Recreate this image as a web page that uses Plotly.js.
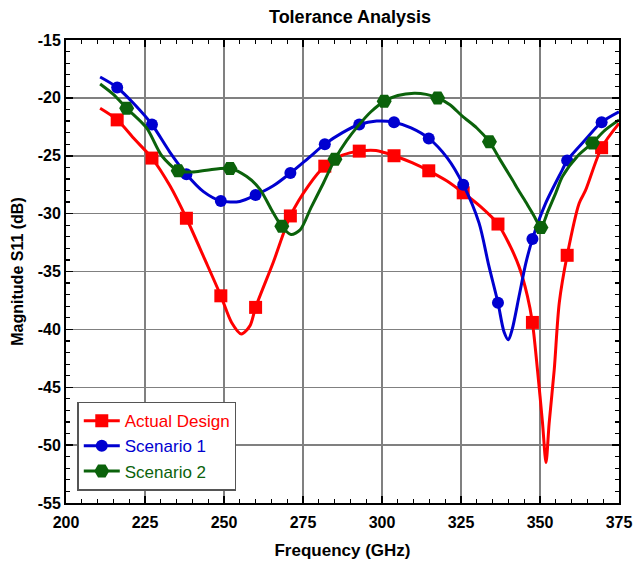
<!DOCTYPE html>
<html>
<head>
<meta charset="utf-8">
<script src="https://cdn.plot.ly/plotly-3.0.1.min.js"></script>
<style>html,body{margin:0;padding:0;background:#fff;}#chart{width:633px;height:561px;}</style>
</head>
<body>
<div id="chart"></div>
<script>
// ---- Data ----
var seriesNames = ["Actual Design", "Scenario 1", "Scenario 2"];

// Smooth curves (frequency GHz, S11 dB)
var actualCurveX = [210.8,216.2,221.8,227.2,232.9,238.1,244.0,249.0,252.4,255.5,258.2,260.0,265.6,271.0,276.7,281.9,287.5,292.8,298.1,303.8,309.5,314.8,320.7,325.7,331.2,336.7,340.2,343.4,346.0,347.6,349.2,350.8,351.9,352.9,354.5,356.1,358.6,362.4,364.4,369.5,375.0];
var actualCurveY = [-20.9,-21.9,-23.6,-25.2,-27.6,-30.4,-34.0,-37.1,-39.4,-40.4,-39.7,-38.1,-34.2,-30.2,-27.6,-25.9,-24.95,-24.6,-24.55,-25.0,-25.6,-26.3,-27.2,-28.2,-29.4,-30.9,-32.6,-34.6,-37.1,-39.4,-43.5,-48.1,-51.5,-48.1,-43.5,-37.7,-33.6,-29.1,-28.0,-24.3,-22.2];

var s1CurveX = [210.8,216.2,221.8,227.2,232.9,238.1,243.5,249.0,255.0,260.0,265.6,271.0,276.7,281.9,287.5,292.8,298.3,303.8,309.2,314.8,320.7,325.7,330.7,333.8,336.7,338.6,340.0,341.2,343.4,345.5,347.6,351.8,357.1,358.6,364.4,369.5,375.0];
var s1CurveY = [-18.2,-19.1,-20.6,-22.3,-24.7,-26.6,-28.1,-28.9,-28.95,-28.4,-27.6,-26.5,-25.2,-24.0,-23.0,-22.3,-22.0,-22.1,-22.6,-23.5,-25.2,-27.5,-30.8,-34.5,-37.7,-40.2,-40.9,-40.0,-37.1,-34.3,-32.2,-29.1,-26.2,-25.4,-23.6,-22.1,-21.2];

var s2CurveX = [210.8,215.0,219.2,225.5,230.3,235.5,240.0,244.5,251.9,257.2,261.4,264.9,268.3,271.2,274.1,277.5,281.4,285.1,288.8,292.5,296.5,300.7,305.0,310.2,314.0,317.6,321.5,325.5,330.0,334.0,337.5,341.3,343.0,345.5,348.2,350.3,352.5,355.0,357.1,362.0,366.6,370.5,375.0];
var s2CurveY = [-18.8,-19.7,-20.9,-22.6,-25.0,-26.3,-26.4,-26.25,-26.1,-26.8,-27.9,-29.6,-31.1,-31.8,-31.4,-29.5,-27.4,-25.3,-23.7,-22.4,-21.2,-20.3,-19.8,-19.6,-19.7,-20.0,-20.6,-21.6,-22.6,-23.8,-25.4,-27.1,-27.9,-29.0,-30.25,-31.2,-29.8,-28.2,-26.8,-25.0,-23.9,-22.8,-21.9];

// Marker points
var actualMarkX = [216.2,227.2,238.1,249.0,260.0,271.0,281.9,292.8,303.8,314.8,325.7,336.7,347.6,358.6,369.5];
var actualMarkY = [-21.9,-25.2,-30.4,-37.1,-38.1,-30.2,-25.9,-24.6,-25.0,-26.3,-28.2,-30.9,-39.4,-33.6,-24.3];
var s1MarkX = [216.2,227.2,238.1,249.0,260.0,271.0,281.9,292.8,303.8,314.8,325.7,336.7,347.6,358.6,369.5];
var s1MarkY = [-19.1,-22.3,-26.6,-28.9,-28.4,-26.5,-24.0,-22.3,-22.1,-23.5,-27.5,-37.7,-32.2,-25.4,-22.1];
var s2MarkX = [219.2,235.5,251.9,268.3,285.1,300.7,317.6,334.0,350.3,366.6];
var s2MarkY = [-20.9,-26.3,-26.1,-31.1,-25.3,-20.3,-20.0,-23.8,-31.2,-23.9];

var xTickVals = [200,225,250,275,300,325,350,375];
var yTickVals = [-55,-50,-45,-40,-35,-30,-25,-20,-15];

// ---- Styles ----
var colors = ["#ff0000", "#0000d0", "#0b620b"];
var symbols = ["square", "circle", "hexagon2"];
var sizes = [13, 12, 15];

var curves = [[actualCurveX, actualCurveY],[s1CurveX, s1CurveY],[s2CurveX, s2CurveY]];
var marks = [[actualMarkX, actualMarkY],[s1MarkX, s1MarkY],[s2MarkX, s2MarkY]];

var traces = [];
for (var i = 0; i < 3; i++) {
  traces.push({
    x: curves[i][0], y: curves[i][1], type: "scatter", mode: "lines",
    line: {color: colors[i], width: 3, shape: "spline", smoothing: 0.8},
    showlegend: false, hoverinfo: "skip"
  });
  traces.push({
    x: marks[i][0], y: marks[i][1], type: "scatter", mode: "markers",
    marker: {color: colors[i], symbol: symbols[i], size: sizes[i], line: {width: 0}},
    showlegend: false
  });
}
for (var j = 0; j < 3; j++) {
  traces.push({
    x: [null], y: [null], type: "scatter", mode: "lines+markers",
    name: '<span style="color:' + colors[j] + '">' + seriesNames[j] + '</span>',
    line: {color: colors[j], width: 3},
    marker: {color: colors[j], symbol: symbols[j], size: sizes[j]},
    showlegend: true
  });
}

var tickFont = {family: "Liberation Sans, Arial, sans-serif", size: 16, color: "#000", weight: "bold"};
var axisCommon = {
  showline: true, linecolor: "#000", linewidth: 2, mirror: "allticks",
  ticks: "inside", ticklen: 7, tickwidth: 1.5, tickcolor: "#000",
  showgrid: true, gridcolor: "#808080", gridwidth: 1.5,
  zeroline: false, tickfont: tickFont, fixedrange: true
};

var layout = {
  width: 633, height: 561,
  margin: {l: 66, r: 14, t: 40, b: 58, pad: 0},
  paper_bgcolor: "#fff", plot_bgcolor: "#fff",
  font: {family: "Liberation Sans, Arial, sans-serif", color: "#000"},
  title: {text: "Tolerance Analysis", font: {size: 18, weight: "bold", color: "#000"},
          x: 0.5136, xref: "paper", y: 0.97, yref: "container", xanchor: "center", yanchor: "middle"},
  xaxis: Object.assign({}, axisCommon, {
    range: [200, 375], tickvals: xTickVals, ticktext: xTickVals.map(String),
    ticklabelstandoff: 4,
    minor: {ticks: "inside", dtick: 5, tick0: 200, ticklen: 4, tickwidth: 1.2, tickcolor: "#000", showgrid: false},
    title: {text: "Frequency (GHz)", font: {size: 17, weight: "bold", color: "#000"}, standoff: 14}
  }),
  yaxis: Object.assign({}, axisCommon, {
    range: [-55, -15], tickvals: yTickVals, ticktext: yTickVals.map(String),
    minor: {ticks: "inside", dtick: 1, tick0: -55, ticklen: 4, tickwidth: 1.2, tickcolor: "#000", showgrid: false},
    title: {text: "Magnitude S11 (dB)", font: {size: 16, weight: "bold", color: "#000"}, standoff: 10}
  }),
  legend: {
    x: 0.0204, y: 0.2188, xanchor: "left", yanchor: "top",
    bgcolor: "#fff", bordercolor: "#555", borderwidth: 1.5,
    font: {size: 17, family: "Liberation Sans, Arial, sans-serif"},
    tracegroupgap: 0, itemwidth: 36
  },
  showlegend: true
};

Plotly.newPlot("chart", traces, layout, {displayModeBar: false, staticPlot: true});
</script>
</body>
</html>
